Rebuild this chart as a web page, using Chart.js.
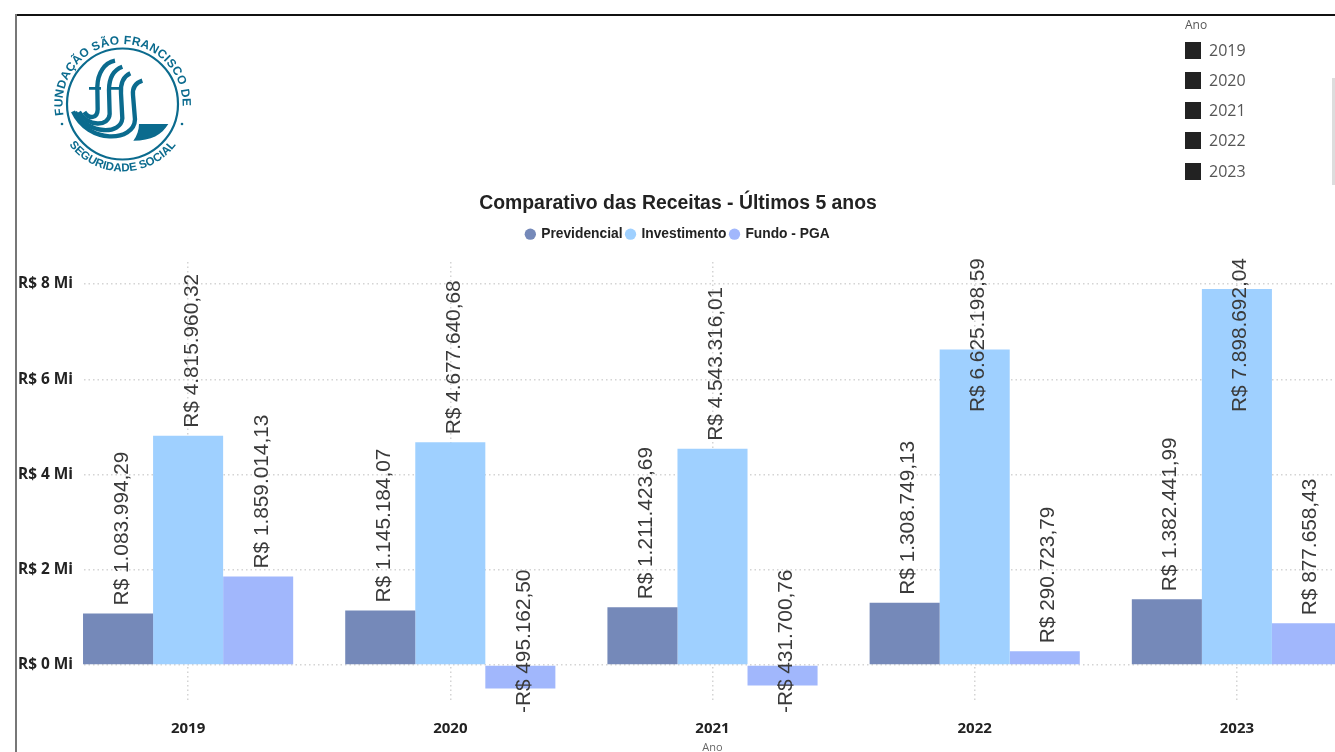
<!DOCTYPE html>
<html lang="pt-BR"><head><meta charset="utf-8">
<script src="https://cdn.jsdelivr.net/npm/chart.js@4"></script>
<style>
html,body{margin:0;padding:0;background:#fff;overflow:hidden;width:1335px;height:752px}
#page{position:relative;width:1335px;height:752px;overflow:hidden;filter:blur(.45px)}
#top{position:absolute;left:15px;top:14px;width:1320px;height:1.5px;background:#111}
#left{position:absolute;left:15px;top:14px;width:2px;height:738px;background:#777}
#wrap{position:absolute;left:-12px;top:188px;width:1380px;height:566px}
#logo{position:absolute;left:40px;top:25px}
.slicer{position:absolute;left:1185px;top:0;font-family:"Open Sans",sans-serif;color:#555}
.slicer .h{position:absolute;left:0;top:18px;font-size:12px;line-height:14px}
.slicer .r{position:absolute;left:0;width:130px;height:18px}
.slicer .b{position:absolute;left:0;top:0;width:16px;height:17px;background:#222}
.slicer .t{position:absolute;left:24px;top:-2px;font-size:16px;line-height:21px}
#sb{position:absolute;left:1332px;top:78px;width:3px;height:107px;background:#ddd}
</style></head><body>
<div id="page">
<div id="top"></div><div id="left"></div>
<svg id="logo" width="170" height="170" viewBox="40 25 170 170" xmlns="http://www.w3.org/2000/svg">
 <defs>
  <path id="arcTop" d="M 63.5 115 A 60 60 0 1 1 181.5 115"/>
  <path id="arcBot" d="M 64.5 138 A 67 67 0 0 0 180.5 138"/>
 </defs>
 <circle cx="122.5" cy="104" r="55.5" fill="none" stroke="#0b6b8e" stroke-width="2.2"/>
 <text font-family="Liberation Sans" font-weight="700" font-size="12" fill="#0b6b8e" letter-spacing=".35"><textPath href="#arcTop" startOffset="0">FUNDAÇÃO SÃO FRANCISCO DE</textPath></text>
 <text font-family="Liberation Sans" font-weight="700" font-size="11.5" fill="#0b6b8e"><textPath href="#arcBot" startOffset="50%" text-anchor="middle">SEGURIDADE SOCIAL</textPath></text>
 <circle cx="62" cy="124" r="1.3" fill="#0b6b8e"/>
 <circle cx="182" cy="124" r="1.3" fill="#0b6b8e"/>
 <g transform="translate(65 50) scale(.3333)">
  <g fill="none" stroke="#0b6b8e" stroke-width="13">
   <path d="M150 32 C118 38 98 70 97 110 L98 178 C98 206 72 208 58 186"/>
   <path d="M172 50 C145 60 132 85 132 120 L134 192 C132 230 70 232 42 186"/>
   <path d="M196 70 C174 80 166 100 168 130 L172 205 C168 254 72 256 30 186"/>
   <path d="M232 92 C208 100 202 115 204 135 L210 208 C208 276 70 284 24 184"/>
   <path d="M72 115 L108 115 M130 115 L165 115" stroke-width="8"/>
  </g>
  <path d="M222 222 L310 222 C290 255 260 272 205 272 C216 258 222 240 222 222 Z" fill="#0b6b8e"/>
 </g>
</svg>
<div class="slicer">
 <div class="h">Ano</div>
 <div class="r" style="top:42px"><div class="b"></div><div class="t">2019</div></div>
 <div class="r" style="top:72px"><div class="b"></div><div class="t">2020</div></div>
 <div class="r" style="top:102px"><div class="b"></div><div class="t">2021</div></div>
 <div class="r" style="top:132px"><div class="b"></div><div class="t">2022</div></div>
 <div class="r" style="top:163px"><div class="b"></div><div class="t">2023</div></div>
</div>
<div id="sb"></div>
<div id="wrap"><canvas id="c" width="1380" height="566" style="display:block;width:1380px;height:566px"></canvas></div>
</div>
<script>
const anos = ['2019','2020','2021','2022','2023'];
const previdencial = [1083994.29,1145184.07,1211423.69,1308749.13,1382441.99];
const investimento = [4815960.32,4677640.68,4543316.01,6625198.59,7898692.04];
const fundoPGA = [1859014.13,-495162.50,-431700.76,290723.79,877658.43];
const yTickValues = [0,2000000,4000000,6000000,8000000];

function brl(v){
  const s = Math.abs(v).toFixed(2).split('.');
  return (v<0?'-':'')+'R$ '+s[0].replace(/\B(?=(\d{3})+$)/g,'.')+','+s[1];
}
const legendGap = {
  id:'legendGap',
  beforeInit(ch){
    const f = ch.legend.fit;
    ch.legend.fit = function(){ f.call(this); this.height += 11; };
  }
};
const whiteGutter = {
  id:'gutter',
  beforeDatasetsDraw(ch){
    const a = ch.chartArea;
    ch.ctx.clearRect(a.left-2, a.top+10, 27, a.bottom-a.top-20);
  }
};
const valueLabels = {
  id:'valueLabels',
  afterDatasetsDraw(ch){
    const ctx = ch.ctx, a = ch.chartArea, gap = 8, stretch = 1.04, topLimit = a.top-4, botLimit = a.bottom+13;
    ctx.save();
    ctx.font = '20px "Liberation Sans"';
    ctx.fillStyle = '#3a3a3a';
    ctx.textBaseline = 'middle';
    ch.data.datasets.forEach((ds,di)=>{
      ch.getDatasetMeta(di).data.forEach((bar,i)=>{
        const v = ds.data[i], t = brl(v), w = ctx.measureText(t).width*stretch;
        let start;
        if(v>=0){ start = bar.y-gap; if(start-w<topLimit) start = topLimit+w; }
        else { start = Math.min(bar.y+w, botLimit); }
        ctx.save();
        ctx.translate(bar.x+4,start);
        ctx.rotate(-Math.PI/2);
        ctx.scale(stretch,1);
        ctx.textAlign='left';
        ctx.fillText(t,0,0);
        ctx.restore();
      });
    });
    ctx.restore();
  }
};
const dots = {color:'#d4d4d4',lineWidth:1.5,drawTicks:false};
new Chart(document.getElementById('c'),{
  type:'bar',
  data:{labels:anos,datasets:[
    {label:'Previdencial',data:previdencial,backgroundColor:'#7589b9'},
    {label:'Investimento',data:investimento,backgroundColor:'#9fd0ff'},
    {label:'Fundo - PGA',data:fundoPGA,backgroundColor:'#a1b7fc'}
  ]},
  options:{
    responsive:false,animation:false,
    layout:{padding:{left:0,right:0,top:4,bottom:0}},
    datasets:{bar:{barPercentage:1,categoryPercentage:.8015}},
    plugins:{
      tooltip:{enabled:false},
      title:{display:true,text:'Comparativo das Receitas - Últimos 5 anos',color:'#222',
        font:{family:'"Liberation Sans"',size:19.4,weight:'bold'},padding:{top:0,bottom:8}},
      legend:{display:true,position:'top',
        labels:{usePointStyle:true,pointStyle:'circle',boxWidth:8,boxHeight:8,padding:4,color:'#222',
          font:{family:'"Liberation Sans"',size:13.8,weight:'bold'}}}
    },
    scales:{
      x:{grid:{...dots,offset:false},
        border:{display:false,dash:[1.5,3]},
        ticks:{color:'#222',padding:20,maxRotation:0,font:{family:'"Open Sans"',size:15,weight:'bold'}},
        title:{display:true,text:'Ano',color:'#666',font:{family:'"Open Sans"',size:11},padding:{top:2,bottom:0}},
        afterFit(s){s.height=54;}},
      y:{min:-735000,max:8462000,
        afterBuildTicks(s){s.ticks = yTickValues.map(value=>({value}));},
        grid:{...dots},
        border:{display:false,dash:[1.5,3]},
        ticks:{z:1,mirror:true,padding:-39,color:'#222',
          font:{family:'"Open Sans"',size:15.4,weight:'bold'},
          callback:v=>'R$ '+(v/1000000)+' Mi'},
        afterFit(s){s.width=69;}}
    }
  },
  plugins:[legendGap,whiteGutter,valueLabels]
});
</script>
</body></html>
